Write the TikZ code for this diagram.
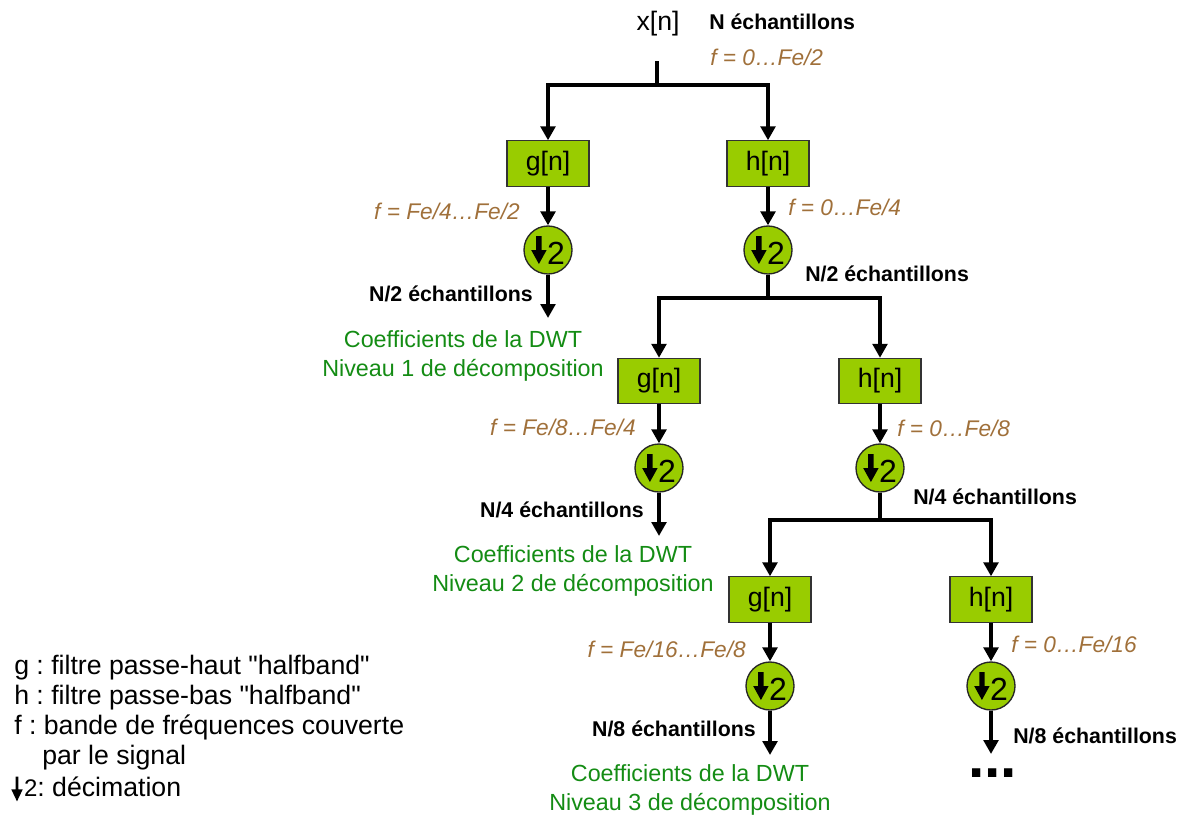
\documentclass[tikz,border=0pt]{standalone}
\usepackage{fontspec}
\setmainfont{Liberation Sans}[Ligatures=TeXOff]
\usetikzlibrary{arrows.meta}
\frenchspacing
\definecolor{boxgreen}{RGB}{153,204,0}
\definecolor{fbrown}{RGB}{160,112,58}
\definecolor{txtgreen}{RGB}{20,140,20}
\newcommand\decarr{\tikz[x=1pt,y=1pt,baseline=0pt]{\fill[black] (0,0) -- (-5.8,10.5) -- (-2,10.5) -- (-2,21) -- (2,21) -- (2,10.5) -- (5.8,10.5) -- cycle;}}
\newcommand\legarr{\tikz[x=1pt,y=1pt,baseline=0pt]{\fill[black] (0,-4) -- (-4.3,5) -- (-1.1,5) -- (-1.1,14.5) -- (1.1,14.5) -- (1.1,5) -- (4.3,5) -- cycle;}}
\tikzset{
  filt/.style={draw=black!80, line width=0.8pt, fill=boxgreen, minimum width=61.5pt, minimum height=34pt, inner sep=0pt, font=\fontsize{20}{24}\selectfont},
  dec/.style={circle, draw=black!85, line width=1pt, fill=boxgreen, minimum size=36pt, inner sep=0pt, font=\fontsize{24}{28}\selectfont},
  arr/.style={line width=2.8pt, -{Triangle[width=11pt,length=10.5pt]}},
  ln/.style={line width=2.8pt},
  freq/.style={text=fbrown, font=\fontsize{17}{20}\selectfont\itshape, inner sep=0pt},
  cnt/.style={font=\fontsize{16}{19}\selectfont\bfseries, inner sep=0pt},
  coef/.style={text=txtgreen, font=\fontsize{17.5}{21}\selectfont, inner sep=0pt},
  leg/.style={font=\fontsize{20}{24}\selectfont, inner sep=0pt}
}
\begin{document}
\begin{tikzpicture}[x=0.75pt,y=-0.75pt]
\useasboundingbox (0,0) rectangle (1187,814);
% input
\node[leg, anchor=base] (xn) at (658,30) {x[n]};
\node[cnt, anchor=base west] (n0) at (709,29) {N échantillons};
\node[freq, anchor=base west] (f0) at (710,65) {f = 0…Fe/2};
\coordinate (s0) at (657,61);
\coordinate (j0) at (657,85);
% level 1
\node[filt] (g1) at (548,163.5) {g[n]};
\node[filt] (h1) at (768,163.5) {h[n]};
\node[dec] (dg1) at (548,250) {\decarr\hspace{0.3pt}2};
\node[dec] (dh1) at (768,250) {\decarr\hspace{0.3pt}2};
\coordinate (e1) at (548,318);
\coordinate (j1) at (768,298);
\node[freq, anchor=base east] (fg1) at (520,219) {f = Fe/4…Fe/2};
\node[freq, anchor=base west] (fh1) at (788,215) {f = 0…Fe/4};
\node[cnt, anchor=base east] (ng1) at (533,301) {N/2 échantillons};
\node[cnt, anchor=base west] (nh1) at (805,281) {N/2 échantillons};
\node[coef, anchor=base] (c1a) at (463,347) {Coefficients de la DWT};
\node[coef, anchor=base] (c1b) at (463,376) {Niveau 1 de décomposition};
% level 2
\node[filt] (g2) at (659,381) {g[n]};
\node[filt] (h2) at (880,381) {h[n]};
\node[dec] (dg2) at (659,468) {\decarr\hspace{0.3pt}2};
\node[dec] (dh2) at (880,468) {\decarr\hspace{0.3pt}2};
\coordinate (e2) at (659,536);
\coordinate (j2) at (880,520);
\node[freq, anchor=base east] (fg2) at (636,435) {f = Fe/8…Fe/4};
\node[freq, anchor=base west] (fh2) at (897,436) {f = 0…Fe/8};
\node[cnt, anchor=base east] (ng2) at (644,517) {N/4 échantillons};
\node[cnt, anchor=base west] (nh2) at (913,504) {N/4 échantillons};
\node[coef, anchor=base] (c2a) at (573,562) {Coefficients de la DWT};
\node[coef, anchor=base] (c2b) at (573,591) {Niveau 2 de décomposition};
% level 3
\node[filt] (g3) at (770,599.5) {g[n]};
\node[filt] (h3) at (991,599.5) {h[n]};
\node[dec] (dg3) at (770,686) {\decarr\hspace{0.3pt}2};
\node[dec] (dh3) at (991,686) {\decarr\hspace{0.3pt}2};
\coordinate (e3) at (770,755);
\coordinate (e4) at (991,754);
\node[freq, anchor=base east] (fg3) at (746,657) {f = Fe/16…Fe/8};
\node[freq, anchor=base west] (fh3) at (1011,652) {f = 0…Fe/16};
\node[cnt, anchor=base east] (ng3) at (756,736) {N/8 échantillons};
\node[cnt, anchor=base west] (nh3) at (1013,743) {N/8 échantillons};
\node[coef, anchor=base] (c3a) at (690,781) {Coefficients de la DWT};
\node[coef, anchor=base] (c3b) at (690,810) {Niveau 3 de décomposition};
\node[font=\fontsize{44}{48}\selectfont\bfseries, inner sep=0pt, anchor=base west] (dots) at (968,777) {...};
% connectors
\draw[ln] (s0) -- (j0);
\draw[arr] (j0) -| (g1);
\draw[arr] (j0) -| (h1);
\draw[arr] (g1) -- (dg1);
\draw[arr] (h1) -- (dh1);
\draw[arr] (dg1) -- (e1);
\draw[ln] (dh1) -- (j1);
\draw[arr] (j1) -| (g2);
\draw[arr] (j1) -| (h2);
\draw[arr] (g2) -- (dg2);
\draw[arr] (h2) -- (dh2);
\draw[arr] (dg2) -- (e2);
\draw[ln] (dh2) -- (j2);
\draw[arr] (j2) -| (g3);
\draw[arr] (j2) -| (h3);
\draw[arr] (g3) -- (dg3);
\draw[arr] (h3) -- (dh3);
\draw[arr] (dg3) -- (e3);
\draw[arr] (dh3) -- (e4);
% legend
\node[leg, anchor=base west] (l1) at (14,674) {g : filtre passe-haut "halfband"};
\node[leg, anchor=base west] (l2) at (14,704) {h : filtre passe-bas "halfband"};
\node[leg, anchor=base west] (l3) at (14,734) {f : bande de fréquences couverte};
\node[leg, anchor=base west] (l4) at (42,764) {par le signal};
\node[leg, anchor=base west] (l5) at (11,796) {\legarr\hspace{1pt}{\fontsize{18}{21}\selectfont 2}: décimation};
\end{tikzpicture}
\end{document}
